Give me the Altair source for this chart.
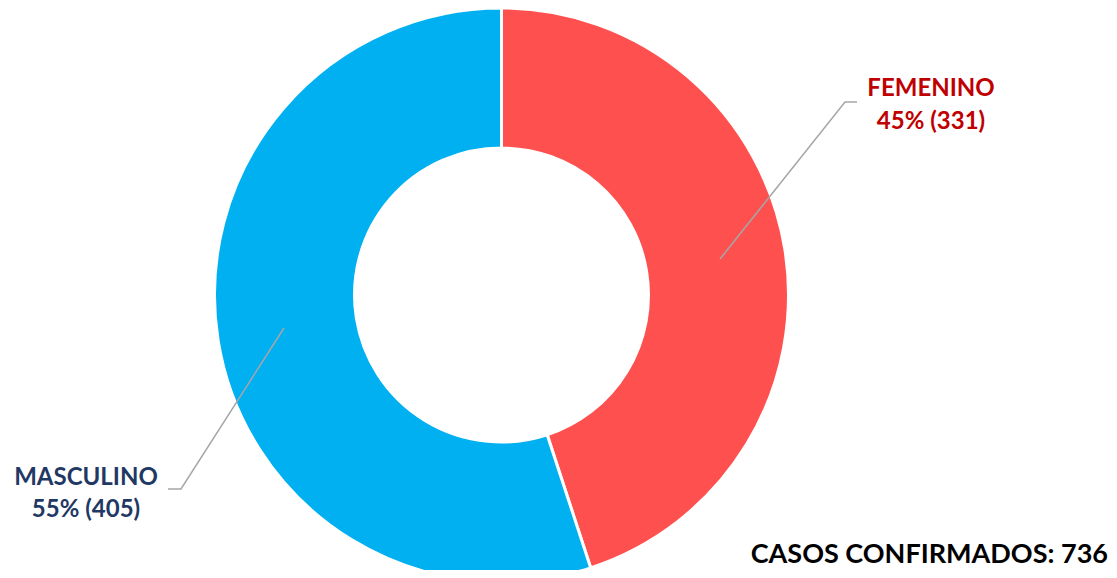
import altair as alt
import pandas as pd

# ---- data ----
categories = ["FEMENINO", "MASCULINO"]
counts = [331, 405]
total_label = "CASOS CONFIRMADOS: 736"

# ---- styles / layout ----
slice_colors = ["#FF5050", "#00B0F0"]
label_colors = ["#C00000", "#1F3864"]
FONT = "Lato"
W, H = 1101, 562
CX, CY = 493.5, 287
R_OUT, R_IN = 287, 147

total = sum(counts)
df = pd.DataFrame({
    "cat": categories,
    "n": counts,
    "ord": list(range(len(categories))),
})
df["pct"] = (df["n"] / total * 100).round().astype(int)
df["line2"] = df["pct"].astype(str) + "% (" + df["n"].astype(str) + ")"

# label layout (pixel positions in chart space)
lab = df.copy()
lab["lx"] = [923, 78]
lab["ly1"] = [88, 477]
lab["ly2"] = [121, 509]

lead = pd.DataFrame({
    "cat": ["FEMENINO"] * 3 + ["MASCULINO"] * 3,
    "o": [0, 1, 2, 0, 1, 2],
    "px": [712, 837, 849, 276, 173, 160],
    "py": [251, 94, 94, 320, 481, 481],
})

arc = alt.Chart(df).mark_arc(
    innerRadius=R_IN, outerRadius=R_OUT, stroke="white", strokeWidth=3
).encode(
    theta=alt.Theta("n:Q", stack=True),
    order=alt.Order("ord:Q"),
    color=alt.Color("cat:N", scale=alt.Scale(domain=categories, range=slice_colors), legend=None),
    x=alt.value(CX),
    y=alt.value(CY),
)

lines = alt.Chart(lead).mark_line(color="#A6A6A6", strokeWidth=1.5).encode(
    x=alt.X("px:Q", scale=None),
    y=alt.Y("py:Q", scale=None),
    detail="cat:N",
    order="o:Q",
)

txt_color = alt.Color("cat:N", scale=alt.Scale(domain=categories, range=label_colors), legend=None)

t1 = alt.Chart(lab).mark_text(font=FONT, fontWeight="bold", fontSize=24, align="center", baseline="alphabetic").encode(
    x=alt.X("lx:Q", scale=None), y=alt.Y("ly1:Q", scale=None), text="cat:N", color=txt_color
)
t2 = alt.Chart(lab).mark_text(font=FONT, fontWeight="bold", fontSize=24, align="center", baseline="alphabetic").encode(
    x=alt.X("lx:Q", scale=None), y=alt.Y("ly2:Q", scale=None), text="line2:N", color=txt_color
)

tot = alt.Chart(pd.DataFrame({"t": [total_label]})).mark_text(
    font=FONT, fontWeight="bold", fontSize=27, align="right", baseline="alphabetic", color="#000000"
).encode(x=alt.value(1100), y=alt.value(555), text="t:N")

chart = alt.layer(arc, lines, t1, t2, tot).resolve_scale(color="independent").properties(
    width=W, height=H, padding=0, autosize=alt.AutoSizeParams(type="none")
).configure_view(stroke=None)

chart.save("out.html", embed_options={"renderer": "svg", "actions": False})
